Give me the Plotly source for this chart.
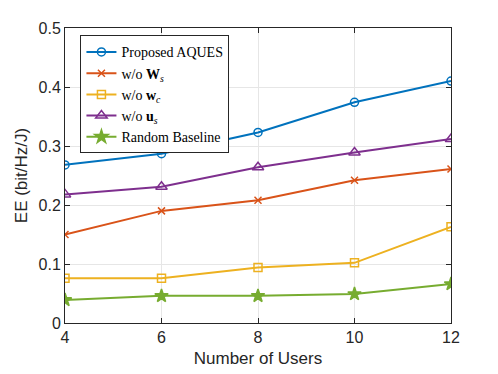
import plotly.graph_objects as go

users = [4, 6, 8, 10, 12]
proposed = [0.268, 0.287, 0.323, 0.374, 0.410]
wo_Ws = [0.150, 0.190, 0.208, 0.242, 0.261]
wo_wc = [0.076, 0.076, 0.094, 0.102, 0.163]
wo_us = [0.218, 0.231, 0.264, 0.289, 0.312]
random_bl = [0.039, 0.046, 0.046, 0.049, 0.066]

names = ["Proposed AQUES",
         "w/o <b>W</b><sub><i>s</i></sub>",
         "w/o <b>w</b><sub><i>c</i></sub>",
         "w/o <b>u</b><sub><i>s</i></sub>",
         "Random Baseline"]
series = [proposed, wo_Ws, wo_wc, wo_us, random_bl]
colors = ["#0072BD", "#D95319", "#EDB120", "#7E2F8E", "#77AC30"]
symbols = ["circle-open", "x-thin-open", "square-open", "triangle-up-open", "star"]
sizes = [8, 7, 8, 10, 10]

fig = go.Figure()
for n, s, c, sym, sz in zip(names, series, colors, symbols, sizes):
    fig.add_trace(go.Scatter(
        x=users, y=s, name=n, mode="lines+markers",
        line=dict(color=c, width=2),
        marker=dict(symbol=sym, size=sz, color=c, line=dict(color=c, width=1.5)),
    ))

sans = "Liberation Sans, Arial"
axis_common = dict(
    showline=True, linecolor="#262626", linewidth=1, mirror="ticks",
    ticks="inside", ticklen=5, tickcolor="#262626",
    showgrid=True, gridcolor="#e6e6e6", gridwidth=1, zeroline=False,
    tickfont=dict(family=sans, size=16, color="#262626"),
)
fig.update_xaxes(range=[4, 12], tickvals=[4, 6, 8, 10, 12],
                 title=dict(text="Number of Users", font=dict(family=sans, size=17, color="#262626"), standoff=6),
                 **axis_common)
fig.update_yaxes(range=[0, 0.5], tickvals=[0, 0.1, 0.2, 0.3, 0.4, 0.5],
                 ticktext=["0", "0.1", "0.2", "0.3", "0.4", "0.5"],
                 title=dict(text="EE (bit/Hz/J)", font=dict(family=sans, size=17, color="#262626"), standoff=6),
                 **axis_common)

fig.update_layout(
    width=498, height=374,
    margin=dict(l=57, r=55, t=20, b=59),
    plot_bgcolor="white", paper_bgcolor="white",
    legend=dict(x=0.04, y=0.975, xanchor="left", yanchor="top",
                bgcolor="white", bordercolor="#262626", borderwidth=1,
                font=dict(family="Liberation Serif, DejaVu Serif", size=14, color="black"),
                tracegroupgap=0, itemwidth=30, itemsizing="trace"),
    showlegend=True,
)

fig.write_html("out.html")
